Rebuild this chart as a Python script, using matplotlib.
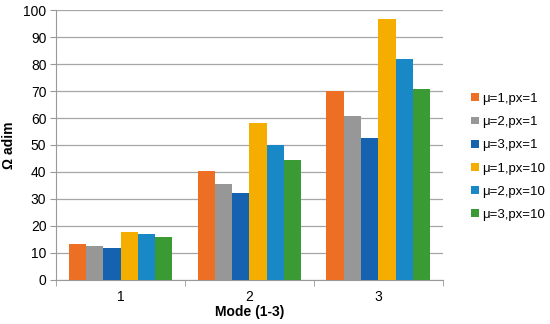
import matplotlib
matplotlib.use("Agg")
import matplotlib.pyplot as plt
import numpy as np

plt.rcParams['font.family'] = ['Liberation Sans', 'DejaVu Sans']

modes = ["1", "2", "3"]
series_labels = ["μ=1,px=1", "μ=2,px=1", "μ=3,px=1", "μ=1,px=10", "μ=2,px=10", "μ=3,px=10"]
s1 = [13.3, 40.5, 70.0]
s2 = [12.6, 35.6, 60.7]
s3 = [11.9, 32.2, 52.6]
s4 = [17.8, 58.0, 96.6]
s5 = [16.9, 50.0, 82.0]
s6 = [16.0, 44.5, 70.7]
series = [s1, s2, s3, s4, s5, s6]
colors = ["#EC6F23", "#979797", "#1462B0", "#F5AE00", "#1888C6", "#3A9A34"]

fig = plt.figure(figsize=(5.5, 3.24), dpi=100)
ax = fig.add_axes([0.102, 0.136, 0.703, 0.833])

x = np.arange(1, len(modes) + 1)
w = 0.134
for i, (vals, lab, c) in enumerate(zip(series, series_labels, colors)):
    ax.bar(x + (i - 2.5) * w, vals, width=w, color=c, label=lab, zorder=3)

ax.set_xlim(0.5, 3.5)
ax.set_ylim(0, 100)
ax.set_yticks(np.arange(0, 101, 10))
ax.set_xticks(x)
ax.set_xticklabels(modes)
ax.set_xticks([0.5, 1.5, 2.5, 3.5], minor=True)
ax.tick_params(axis="x", which="major", length=0, labelsize=10, pad=7)
ax.tick_params(axis="x", which="minor", length=4, color="#999999")
ax.tick_params(axis="y", length=4, color="#999999", labelsize=10, pad=3)
ax.grid(axis="y", color="#A6A6A6", linewidth=0.9, zorder=0)
for s in ["top", "right"]:
    ax.spines[s].set_visible(False)
for s in ["left", "bottom"]:
    ax.spines[s].set_color("#999999")
ax.set_xlabel("Mode (1-3)", fontsize=10, fontweight="bold", labelpad=1)
ax.set_ylabel("Ω adim", fontsize=10, fontweight="bold", labelpad=5)

ax.legend(loc="center left", bbox_to_anchor=(466 / 550, 1 - 157 / 324),
          bbox_transform=fig.transFigure, borderaxespad=0, frameon=False, fontsize=9.5,
          handlelength=0.55, handleheight=0.55, handletextpad=0.3, labelspacing=0.85)

fig.savefig("out.png", dpi=100)
